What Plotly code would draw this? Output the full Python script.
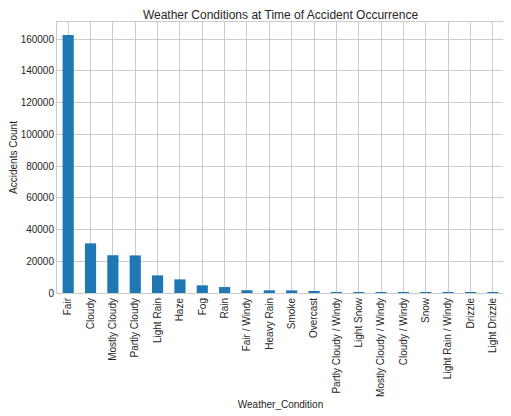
import plotly.graph_objects as go

# Weather condition counts
conditions = [
    "Fair", "Cloudy", "Mostly Cloudy", "Partly Cloudy", "Light Rain", "Haze",
    "Fog", "Rain", "Fair / Windy", "Heavy Rain", "Smoke", "Overcast",
    "Partly Cloudy / Windy", "Light Snow", "Mostly Cloudy / Windy",
    "Cloudy / Windy", "Snow", "Light Rain / Windy", "Drizzle", "Light Drizzle",
]
accident_counts = [
    162700, 31300, 23800, 23700, 11100, 8600,
    4850, 3750, 1750, 1700, 1650, 650,
    600, 580, 550,
    120, 90, 70, 60, 50,
]
y_ticks = [0, 20000, 40000, 60000, 80000, 100000, 120000, 140000, 160000]

grid_color = "#cccccc"
text_color = "#262626"

# the page body adds an 8px offset, so the figure is 8px smaller than the window
W, H = 503, 408

fig = go.Figure()

# Single bar series, matplotlib default blue, half-width bars
fig.add_trace(
    go.Bar(
        x=conditions,
        y=accident_counts,
        marker_color="#1f77b4",
        marker_line_width=0,
        width=0.5,
    )
)

fig.update_layout(
    width=W,
    height=H,
    margin=dict(t=14, b=123, l=49, r=7, autoexpand=False),
    plot_bgcolor="white",
    paper_bgcolor="white",
    showlegend=False,
    font=dict(family="Liberation Sans, Arial, sans-serif", size=10, color=text_color),
    title=dict(
        text="Weather Conditions at Time of Accident Occurrence",
        x=(49 + (W - 7)) / 2 / W,
        xanchor="center",
        y=1 - 7 / H,
        yanchor="middle",
        font=dict(size=12, color=text_color),
    ),
    xaxis=dict(
        type="category",
        range=[-0.5, len(conditions) - 0.5],
        tickangle=-90,
        showgrid=True,
        gridcolor=grid_color,
        gridwidth=1,
        showline=True,
        linecolor=grid_color,
        linewidth=1,
        mirror=True,
        ticks="",
        automargin=False,
        title=dict(text="Weather_Condition", standoff=5, font=dict(size=10)),
    ),
    yaxis=dict(
        range=[0, max(accident_counts) * 1.05],
        tickvals=y_ticks,
        ticktext=[str(v) for v in y_ticks],
        showgrid=True,
        gridcolor=grid_color,
        gridwidth=1,
        zeroline=False,
        showline=True,
        linecolor=grid_color,
        linewidth=1,
        mirror=True,
        ticks="",
        automargin=False,
        title=dict(text="Accidents Count", standoff=8, font=dict(size=10)),
    ),
)

fig.write_html("out.html")
